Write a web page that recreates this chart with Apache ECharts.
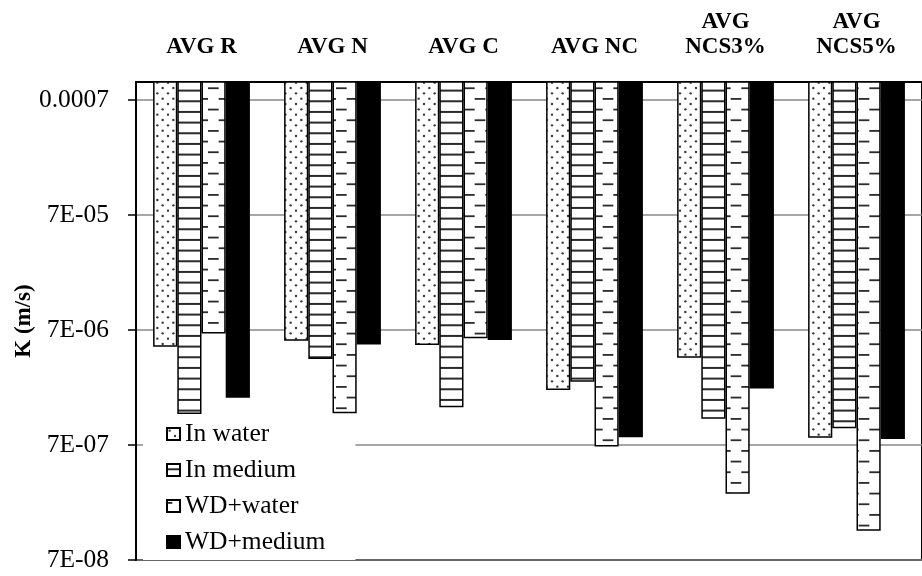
<!DOCTYPE html>
<html>
<head>
<meta charset="utf-8">
<title>K (m/s)</title>
<script src="https://cdn.jsdelivr.net/npm/echarts@6/dist/echarts.min.js"></script>
<style>
  html, body { margin: 0; padding: 0; background: #fff; }
  #chart { width: 922px; height: 576px; }
</style>
</head>
<body>
<div id="chart"></div>
<script>
// Hydraulic conductivity per mix, four curing/testing conditions
const categories = ['AVG R', 'AVG N', 'AVG C', 'AVG NC', 'AVG\nNCS3%', 'AVG\nNCS5%'];
const seriesNames = ['In water', 'In medium', 'WD+water', 'WD+medium'];
const inWater  = [4.99e-6, 5.63e-6, 5.17e-6, 2.10e-6, 4.01e-6, 8.10e-7];
const inMedium = [1.30e-6, 3.91e-6, 1.49e-6, 2.48e-6, 1.18e-6, 9.77e-7];
const wdWater  = [6.53e-6, 1.32e-6, 5.91e-6, 6.77e-7, 2.63e-7, 1.26e-7];
const wdMedium = [1.80e-6, 5.24e-6, 5.71e-6, 8.16e-7, 2.17e-6, 7.89e-7];
const yTickValues = [7e-8, 7e-7, 7e-6, 7e-5, 7e-4];
const yTickLabels = ['7E-08', '7E-07', '7E-06', '7E-05', '0.0007'];

const SERIF = '"Liberation Serif", "Times New Roman", serif';

// Fill patterns (white ground with dark marks)
function makeTile(w, h, draw) {
  const c = document.createElement('canvas');
  c.width = w; c.height = h;
  const ctx = c.getContext('2d');
  ctx.fillStyle = '#fff';
  ctx.fillRect(0, 0, w, h);
  draw(ctx);
  return c;
}
const cell = 32 / 3;
const dotTile = makeTile(32, 32, ctx => {
  ctx.fillStyle = '#3a3a3a';
  for (let j = 0; j < 6; j++) {
    for (let i = 0; i < 3; i++) {
      const x = i * cell + (j % 2 ? cell / 2 : 0) + cell / 4;
      const y = j * cell / 2 + cell / 4;
      ctx.beginPath();
      ctx.arc(x, y, 1.2, 0, Math.PI * 2);
      ctx.fill();
    }
  }
});
const stripeTile = makeTile(32, 32, ctx => {
  ctx.fillStyle = '#2a2a2a';
  for (let j = 0; j < 3; j++) {
    ctx.fillRect(0, j * cell + cell * 0.4, 32, 2);
  }
});
const c2 = 64 / 3;
const dashTile = makeTile(64, 64, ctx => {
  ctx.fillStyle = '#2a2a2a';
  for (let j = 0; j < 3; j++) {
    const yA = j * c2 + 2;
    const yB = j * c2 + c2 / 2 + 2;
    for (let i = 0; i <= 3; i++) {
      ctx.fillRect(i * c2 - c2 / 4, yA, c2 / 2, 1.8);
      if (i < 3) ctx.fillRect(i * c2 + c2 / 4, yB, c2 / 2, 1.8);
    }
  }
});

const fills = [
  { image: dotTile, repeat: 'repeat' },
  { image: stripeTile, repeat: 'repeat' },
  { image: dashTile, repeat: 'repeat' },
  '#000'
];
const seriesData = [inWater, inMedium, wdWater, wdMedium];

const chart = echarts.init(document.getElementById('chart'), null, { renderer: 'canvas' });
chart.setOption({
  animation: false,
  backgroundColor: '#fff',
  grid: {
    left: 136, top: 82, width: 797, height: 478,
    show: true, borderColor: '#000', borderWidth: 2, backgroundColor: 'transparent'
  },
  legend: {
    data: seriesNames,
    orient: 'vertical',
    left: 143, top: 416,
    icon: 'rect',
    itemWidth: 13, itemHeight: 12, itemGap: 10,
    padding: [5, 30, 5, 23],
    backgroundColor: '#fff',
    textStyle: { fontFamily: SERIF, fontSize: 25.5, color: '#000' }
  },
  xAxis: {
    type: 'category',
    position: 'top',
    data: categories,
    axisLine: { show: true, lineStyle: { color: '#000', width: 2 } },
    axisTick: { show: false },
    axisLabel: {
      interval: 0, margin: 22,
      fontFamily: SERIF, fontWeight: 'bold', fontSize: 23, lineHeight: 25, color: '#000'
    },
    splitLine: { show: false }
  },
  yAxis: {
    type: 'log',
    logBase: 10,
    min: 7e-8,
    max: 1e-3,
    name: 'K (m/s)',
    nameLocation: 'middle',
    nameGap: 100,
    nameMoveOverlap: false,
    nameTextStyle: { fontFamily: SERIF, fontWeight: 'bold', fontSize: 23, color: '#000' },
    axisLine: { show: true, lineStyle: { color: '#000', width: 2 } },
    axisTick: { show: true, length: 8, lineStyle: { color: '#000', width: 1.5 }, customValues: yTickValues },
    axisLabel: {
      customValues: yTickValues,
      margin: 27,
      fontFamily: SERIF, fontSize: 25.5, color: '#000',
      formatter: v => {
        const k = yTickValues.findIndex(t => Math.abs(t - v) / t < 1e-6);
        return k >= 0 ? yTickLabels[k] : '';
      }
    },
    splitLine: { show: true, lineStyle: { color: '#888', width: 1.5 } },
    minorTick: { show: false },
    minorSplitLine: { show: false }
  },
  series: seriesData.map((d, i) => ({
    name: seriesNames[i],
    type: 'bar',
    data: d,
    barWidth: 24.2,
    barGap: '0%',
    clip: true,
    itemStyle: { color: fills[i], borderColor: '#000', borderWidth: 1.5 }
  }))
});
</script>
</body>
</html>
